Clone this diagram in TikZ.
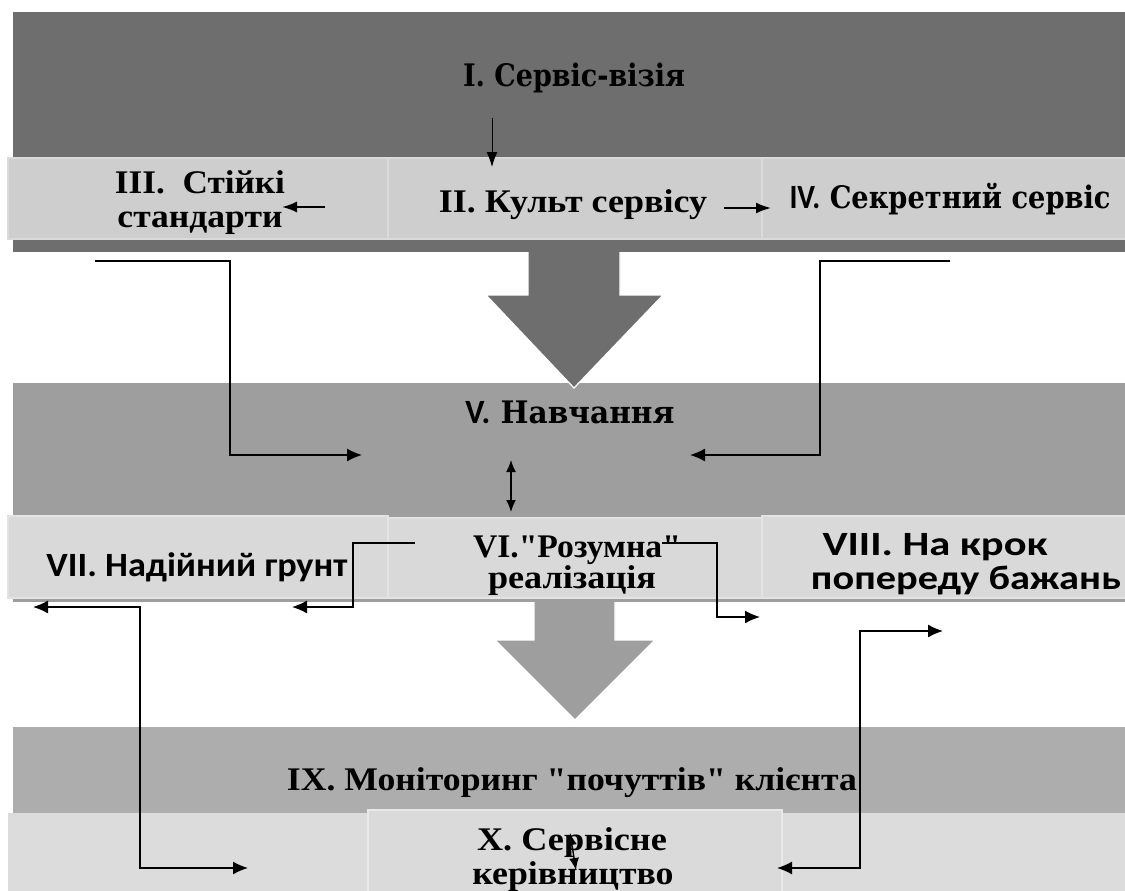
\documentclass[tikz,border=0pt]{standalone}
\usepackage{fontspec}
\usepackage{graphicx}
\usetikzlibrary{arrows.meta}
\setmainfont{Liberation Serif}[Ligatures=TeXOff]
\newfontfamily\snf{Carlito}[Ligatures=TeXOff]
\newfontfamily\cmb{DejaVu Serif}[Ligatures=TeXOff]
\newcommand{\fw}[2]{\resizebox{#1pt}{\height}{#2}}
\newcommand{\bigsans}[1]{{\snf\fontsize{34}{36}\selectfont #1}}
\definecolor{bandA}{HTML}{6E6E6E}
\definecolor{boxA}{HTML}{CECECE}
\definecolor{edgeA}{HTML}{DADADA}
\definecolor{bandB}{HTML}{9E9E9E}
\definecolor{boxB}{HTML}{D9D9D9}
\definecolor{edgeB}{HTML}{E3E3E3}
\definecolor{bandC}{HTML}{ADADAD}
\definecolor{bandD}{HTML}{DCDCDC}
\definecolor{boxD}{HTML}{DADADA}
\definecolor{edgeD}{HTML}{E8E8E8}
\begin{document}
\begin{tikzpicture}[x=1pt,y=-1pt,
  lbl/.style={inner sep=0pt, anchor=base, font=\bfseries\fontsize{33}{36}\selectfont},
  clbl/.style={inner sep=0pt, anchor=base, font=\cmb\bfseries\fontsize{31}{36}\selectfont},
  slbl/.style={inner sep=0pt, anchor=base, font=\snf\bfseries\fontsize{34}{36}\selectfont},
  conn/.style={draw=black, line width=1.4pt, -{Latex[length=15pt,width=13pt]}},
  dconn/.style={draw=black, line width=1.4pt, {Latex[length=15pt,width=13pt]}-{Latex[length=15pt,width=13pt]}},
  thinconn/.style={draw=black, line width=1pt, -{Latex[length=15pt,width=11pt]}},
  midconn/.style={draw=black, line width=1.8pt, -{Latex[length=15pt,width=11pt]}},
  smalld/.style={draw=black, line width=1.4pt, {Latex[length=12pt,width=10pt]}-{Latex[length=12pt,width=10pt]}},
  bigarrow/.style={draw=white, line width=1.2pt, line join=miter}]
\useasboundingbox (0,0) rectangle (1125,891);
\fill[white] (0,0) rectangle (1125,891);
% second big arrow (under band V and its boxes)
\fill[bandB, bigarrow] (534,592) -- (615,592) -- (615,640) -- (655,640) -- (575,720) -- (495,640) -- (534,640) -- cycle;
% band V
\fill[bandB] (13,383) rectangle (1125,602);
% first big arrow
\fill[bandA, bigarrow] (528,245) -- (620,245) -- (620,295) -- (663,295) -- (574,388) -- (486,295) -- (528,295) -- cycle;
% band I
\fill[bandA] (13,12) rectangle (1125,252);
% top boxes
\path[fill=boxA, draw=edgeA, line width=2.5pt] (8,158) rectangle (388,239);
\path[fill=boxA, draw=edgeA, line width=2.5pt] (388,158) rectangle (762,239);
\path[fill=boxA, draw=edgeA, line width=2.5pt] (762,158) rectangle (1128,239);
% middle boxes
\path[fill=boxB, draw=edgeB, line width=2.5pt] (8,516) rectangle (388,598);
\path[fill=boxB, draw=edgeB, line width=2.5pt] (388,518) rectangle (762,598);
\path[fill=boxB, draw=edgeB, line width=2.5pt] (762,516) rectangle (1128,598);
% band IX and bottom band
\fill[bandC] (13,727) rectangle (1125,813);
\fill[bandD] (8,813) rectangle (1125,891);
\path[fill=boxD, draw=edgeD, line width=2.5pt] (368,810) rectangle (782,896);

% texts
\node[clbl] (t1) at (574,87) {\fw{222}{I. Сервіс-візія}};
\node[lbl] (t2) at (573,212) {\fw{268}{II. Культ сервісу}};
\node[lbl] (t3a) at (200,193) {\fw{170}{III.\ \ Стійкі}};
\node[lbl] (t3b) at (200,227) {\fw{165}{стандарти}};
\node[clbl] (t4) at (950,208) {\fw{321}{\bigsans{IV.} Секретний сервіс}};
\node[clbl] (t5) at (570,423) {\fw{209}{\bigsans{V.} Навчання}};
\node[lbl] (t6a) at (577,557) {\fw{208}{VI."Розумна"}};
\node[lbl] (t6b) at (572,588) {\fw{168}{реалізація}};
\node[slbl] (t7) at (197,576) {\fw{301}{VII. Надійний грунт}};
\node[slbl] (t8a) at (935,555) {\fw{225}{VIII. На крок}};
\node[slbl] (t8b) at (966,589) {\fw{310}{попереду бажань}};
\node[lbl] (t9) at (572,790) {\fw{570}{IX. Моніторинг "почуттів" клієнта}};
\node[lbl] (t10a) at (572,850) {\fw{190}{X. Сервісне}};
\node[lbl] (t10b) at (573,884) {\fw{201}{керівництво}};

% connector end points
\coordinate (c1s) at (492,118);
\coordinate (c1e) at (492,167);
\coordinate (c2s) at (325,207);
\coordinate (c2e) at (282,207);
\coordinate (c3s) at (724,208);
\coordinate (c3e) at (771,208);
\coordinate (e1s) at (95,261);
\coordinate (e1m) at (230,455);
\coordinate (e1e) at (362,455);
\coordinate (e2s) at (950,261);
\coordinate (e2m) at (820,455);
\coordinate (e2e) at (690,455);
\coordinate (d1s) at (511,460);
\coordinate (d1e) at (511,512);
\coordinate (e3s) at (415,543);
\coordinate (e3m) at (353,607);
\coordinate (e3e) at (292,607);
\coordinate (e4s) at (662,543);
\coordinate (e4m) at (717,617);
\coordinate (e4e) at (760,617);
\coordinate (l1s) at (33,607);
\coordinate (l1m) at (140,868);
\coordinate (l1e) at (248,868);
\coordinate (l2s) at (943,631);
\coordinate (l2m) at (860,868);
\coordinate (l2e) at (777,868);
\coordinate (d2s) at (570,833);
\coordinate (d2e) at (576,870);

% connectors
\draw[thinconn] (c1s) -- (c1e);
\draw[midconn] (c2s) -- (c2e);
\draw[midconn] (c3s) -- (c3e);
\draw[conn] (e1s) -| (e1m) -- (e1e);
\draw[conn] (e2s) -| (e2m) -- (e2e);
\draw[smalld] (d1s) -- (d1e);
\draw[conn] (e3s) -| (e3m) -- (e3e);
\draw[conn] (e4s) -| (e4m) -- (e4e);
\draw[dconn] (l1s) -| (l1m) -- (l1e);
\draw[dconn] (l2s) -| (l2m) -- (l2e);
\draw[smalld] (d2s) -- (d2e);
\end{tikzpicture}
\end{document}
